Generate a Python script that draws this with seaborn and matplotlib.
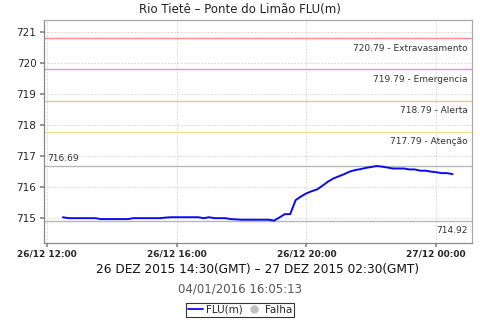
import matplotlib
matplotlib.use("Agg")
import matplotlib.pyplot as plt
import matplotlib.dates as mdates
from matplotlib.lines import Line2D
import seaborn as sns
import pandas as pd
import numpy as np

sns.set_theme(style="white")
plt.rcParams['font.family'] = ['DejaVu Sans']

title = "Rio Tietê – Ponte do Limão FLU(m)"
xlabel = "26 DEZ 2015 14:30(GMT) – 27 DEZ 2015 02:30(GMT)"
stamp = "04/01/2016 16:05:13"

start = "2015-12-26 12:30"
freq = "10min"
levels = [
    715.03, 715.00, 715.00, 715.00, 715.00, 715.00, 715.00, 714.97, 714.97, 714.97,
    714.97, 714.97, 714.97, 715.00, 715.00, 715.00, 715.00, 715.00, 715.00, 715.02,
    715.03, 715.03, 715.03, 715.03, 715.03, 715.03, 715.00, 715.03, 715.00, 715.00,
    715.00, 714.97, 714.96, 714.95, 714.95, 714.95, 714.95, 714.95, 714.95, 714.92,
    715.02, 715.13, 715.13, 715.58, 715.70, 715.80, 715.87, 715.93, 716.05, 716.18,
    716.28, 716.35, 716.42, 716.50, 716.55, 716.58, 716.62, 716.65, 716.68, 716.66,
    716.63, 716.60, 716.60, 716.60, 716.57, 716.57, 716.53, 716.53, 716.50, 716.48,
    716.45, 716.45, 716.42,
]
times = pd.date_range(start, periods=len(levels), freq=freq)

thr_values = [720.79, 719.79, 718.79, 717.79]
thr_names = ["Extravasamento", "Emergencia", "Alerta", "Atenção"]
thr_colors = ["#ff8c8c", "#ee88ee", "#ffc080", "#f5e38a"]

max_val = 716.69
min_val = 714.92

df = pd.DataFrame({"time": times, "FLU(m)": levels})

fig = plt.figure(figsize=(4.8, 3.2), dpi=100)
ax_l, ax_r = 44/480, 472/480
ax = fig.add_axes([ax_l, 1-243/320, ax_r-ax_l, (243-19.5)/320])

ax.grid(True, color="#d0d0d0", linestyle=(0, (2, 2)), linewidth=0.6)
ax.set_axisbelow(True)

for v, n, c in zip(thr_values, thr_names, thr_colors):
    ax.axhline(v, color=c, linewidth=1.0, zorder=2)
    ax.annotate(f"{v:.2f} - {n}", xy=(1, v), xycoords=("axes fraction", "data"),
                xytext=(-3, -4), textcoords="offset points", ha="right", va="top",
                fontsize=6.5, color="#333333")

ax.axhline(max_val, color="#b8b8b8", linewidth=1.0, zorder=2)
ax.axhline(min_val, color="#b8b8b8", linewidth=1.0, zorder=2)
ax.annotate(f"{max_val:.2f}", xy=(0, max_val), xycoords=("axes fraction", "data"),
            xytext=(2, 2), textcoords="offset points", ha="left", va="bottom",
            fontsize=6.5, color="#333333")
ax.annotate(f"{min_val:.2f}", xy=(1, min_val), xycoords=("axes fraction", "data"),
            xytext=(-3, -4), textcoords="offset points", ha="right", va="top",
            fontsize=6.5, color="#333333")

sns.lineplot(data=df, x="time", y="FLU(m)", ax=ax, color="#0a0af0", linewidth=1.4, zorder=3)

ax.set_xlim(pd.Timestamp("2015-12-26 11:55"), pd.Timestamp("2015-12-27 01:06"))
ax.set_ylim(714.2, 721.4)
ax.set_yticks([715, 716, 717, 718, 719, 720, 721])
ax.xaxis.set_major_locator(mdates.HourLocator(byhour=[0, 4, 8, 12, 16, 20]))
ax.xaxis.set_major_formatter(mdates.DateFormatter("%d/%m %H:%M"))
ax.tick_params(axis="x", labelsize=6.5, length=3, pad=2, color="#888888", direction="out", bottom=True)
ax.tick_params(axis="y", labelsize=7.5, length=3, pad=2.5, color="#888888", direction="out", left=True)
for lab in ax.get_xticklabels():
    lab.set_fontweight("bold")
ax.set_xlabel("")
ax.set_ylabel("")
for s in ["left", "bottom"]:
    ax.spines[s].set_color("#888888")
for s in ["right", "top"]:
    ax.spines[s].set_color("#aaaaaa")
for s in ax.spines.values():
    s.set_linewidth(0.9)

fig.text(0.5, 1-10/320, title, ha="center", va="center", fontsize=8.5, color="#222222")
fig.text((ax_l+ax_r)/2, 1-269/320, xlabel, ha="center", va="center", fontsize=8.7, color="#111111")
fig.text(0.5, 1-289/320, stamp, ha="center", va="center", fontsize=8.5, color="#555555")

handles = [Line2D([0], [0], color="#0a0af0", linewidth=1.3),
           Line2D([0], [0], marker="o", linestyle="none", color="#c0c0c0", markersize=5)]
leg = fig.legend(handles, ["FLU(m)", "Falha"], loc="center", bbox_to_anchor=(0.5, 1-310/320),
                 ncol=2, fontsize=7.5, frameon=True, fancybox=False, handlelength=1.4,
                 handletextpad=0.3, columnspacing=0.4, borderpad=0.2, borderaxespad=0)
leg.get_frame().set_edgecolor("#000000")
leg.get_frame().set_linewidth(0.8)

fig.savefig("out.png", dpi=100)
